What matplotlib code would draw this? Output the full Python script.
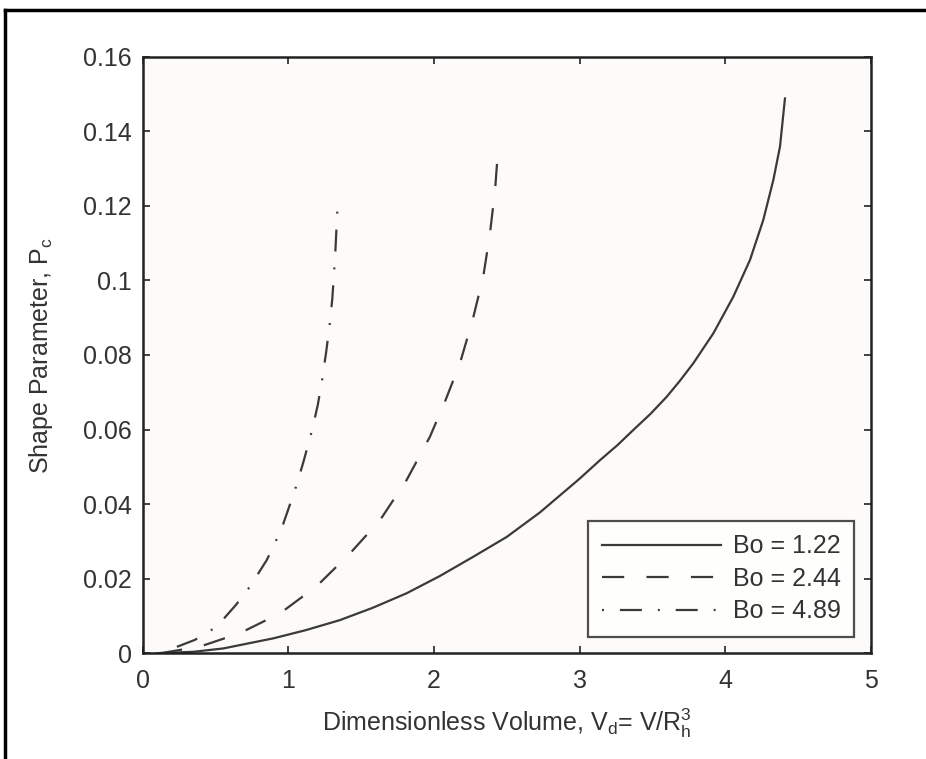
import matplotlib
matplotlib.use("Agg")
import matplotlib.pyplot as plt
from matplotlib.lines import Line2D
from matplotlib.ticker import FuncFormatter

# ---- data ----
bo_labels = ["Bo = 1.22", "Bo = 2.44", "Bo = 4.89"]

x_bo122 = [0.10, 0.35, 0.554, 0.897, 1.12, 1.355, 1.58, 1.813, 2.04, 2.271, 2.50, 2.729,
           3.0, 3.141, 3.26, 3.370, 3.49, 3.599, 3.69, 3.782, 3.919, 4.056, 4.171, 4.262,
           4.331, 4.377, 4.411]
y_bo122 = [0.0, 0.0004, 0.0013, 0.0040, 0.0062, 0.0089, 0.0122, 0.0161, 0.0207, 0.0259,
           0.0312, 0.0378, 0.0468, 0.0518, 0.0558, 0.0599, 0.0643, 0.0688, 0.0731, 0.0778,
           0.0858, 0.0956, 0.1055, 0.1162, 0.1269, 0.1359, 0.1488]

x_bo244 = [0.12, 0.394, 0.668, 0.943, 1.195, 1.424, 1.630, 1.813, 1.973, 2.076, 2.179,
           2.266, 2.339, 2.385, 2.420, 2.442]
y_bo244 = [0.0, 0.0018, 0.0054, 0.0107, 0.0180, 0.0268, 0.0357, 0.0465, 0.0581, 0.0675,
           0.0778, 0.0894, 0.1010, 0.1126, 0.1242, 0.1359]

x_bo489 = [0.12, 0.359, 0.508, 0.641, 0.737, 0.852, 0.950, 1.046, 1.103, 1.161, 1.202,
           1.229, 1.259, 1.284, 1.302, 1.321, 1.337]
y_bo489 = [0.0, 0.0036, 0.0071, 0.0130, 0.0179, 0.0250, 0.0330, 0.0438, 0.0512, 0.0595,
           0.0665, 0.0725, 0.0805, 0.0880, 0.0950, 0.1060, 0.1190]

x_ticks = [0, 1, 2, 3, 4, 5]
y_ticks = [0, 0.02, 0.04, 0.06, 0.08, 0.10, 0.12, 0.14, 0.16]

# ---- style ----
plt.rcParams['font.family'] = ['Liberation Sans', 'DejaVu Sans']
plt.rcParams['mathtext.fontset'] = 'custom'
plt.rcParams['mathtext.rm'] = 'Liberation Sans'
plt.rcParams['mathtext.it'] = 'Liberation Sans'
plt.rcParams['lines.scale_dashes'] = False

ink = '#333333'
line_col = '#3a3a3a'
fs = 18

fig = plt.figure(figsize=(9.26, 7.59), dpi=100)
fig.patch.set_facecolor('white')
ax = fig.add_axes([0.1541, 0.1393, 0.9403 - 0.1541, 0.9253 - 0.1393])
ax.set_facecolor('#fcfbf9')

lw = 1.6
ax.plot(x_bo122, y_bo122, color=line_col, lw=lw, linestyle='-', label=bo_labels[0])
ax.plot(x_bo244, y_bo244, color=line_col, lw=lw, linestyle=(0, (16, 16)), label=bo_labels[1])
ax.plot(x_bo489, y_bo489, color=line_col, lw=lw, linestyle=(0, (1.4, 11.5, 15.8, 11.5)),
        label=bo_labels[2])

ax.set_xlim(0, 5)
ax.set_ylim(0, 0.16)
ax.set_xticks(x_ticks)
ax.set_yticks(y_ticks)
ax.xaxis.set_major_formatter(FuncFormatter(lambda v, p: f"{v:g}"))
ax.yaxis.set_major_formatter(FuncFormatter(lambda v, p: f"{v:g}"))
ax.tick_params(direction='in', length=5, width=1.3, colors=ink, labelsize=fs,
               top=True, right=True, pad=8)
ax.tick_params(axis='x', pad=11)
for s in ax.spines.values():
    s.set_linewidth(1.8)
    s.set_color('#222222')

ax.set_xlabel(r'Dimensionless Volume, V$_\mathregular{d}$= V/R$_\mathregular{h}^\mathregular{3}$',
              fontsize=fs, color=ink, labelpad=10)
ax.set_ylabel(r'Shape Parameter, P$_\mathregular{c}$', fontsize=fs, color=ink, labelpad=20)

leg = ax.legend(loc='lower right', fontsize=fs, frameon=True, fancybox=False,
                handlelength=4.75, handletextpad=0.48, borderpad=0.55, labelspacing=0.34,
                borderaxespad=0.65)
leg.get_frame().set_edgecolor('#222222')
leg.get_frame().set_linewidth(1.6)
leg.get_frame().set_facecolor('white')
for t in leg.get_texts():
    t.set_color(ink)

# outer frame (left and top edges of the scanned figure)
fig.add_artist(Line2D([5 / 926, 5 / 926], [0, 1 - 10 / 759], transform=fig.transFigure,
                      color='black', lw=2.5))
fig.add_artist(Line2D([5 / 926, 1], [1 - 10 / 759, 1 - 10 / 759], transform=fig.transFigure,
                      color='black', lw=2.5))

fig.savefig('out.png', dpi=100)
